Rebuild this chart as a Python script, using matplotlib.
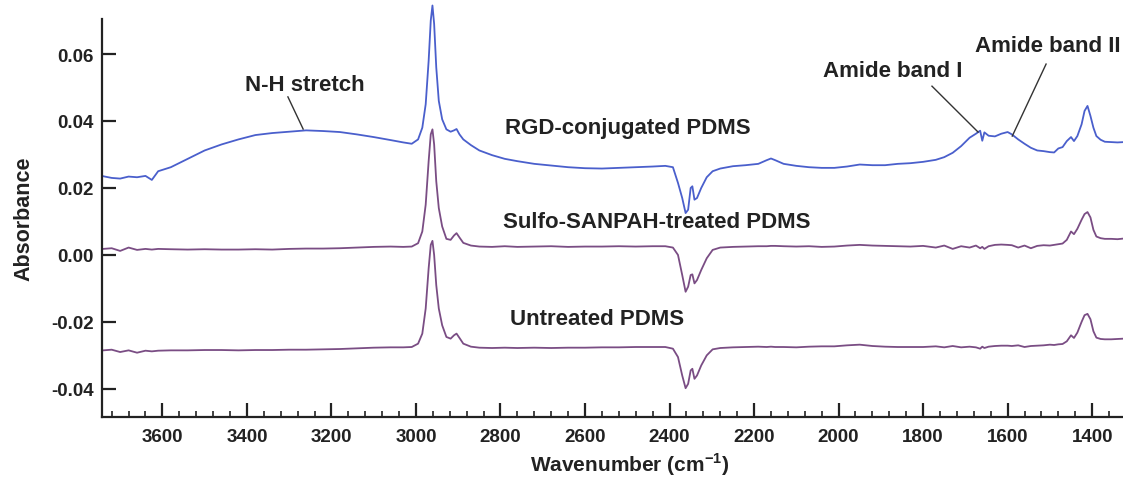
import numpy as np
import matplotlib
matplotlib.use("Agg")
import matplotlib.pyplot as plt
from matplotlib.ticker import MultipleLocator, FormatStrFormatter

plt.rcParams['font.family'] = ['Liberation Sans', 'DejaVu Sans']
plt.rcParams['font.weight'] = 'bold'
plt.rcParams['axes.unicode_minus'] = False
plt.rcParams['mathtext.fontset'] = 'custom'
plt.rcParams['mathtext.rm'] = 'Liberation Sans:bold'
plt.rcParams['mathtext.bf'] = 'Liberation Sans:bold'

# wavenumber grid (cm-1)
wn = [3740, 3720, 3700, 3680, 3660, 3640, 3625, 3610, 3580, 3540,
      3500, 3460, 3420, 3380, 3340, 3300, 3260, 3220, 3180, 3140,
      3100, 3060, 3030, 3010, 2995, 2985, 2977, 2970, 2965, 2961,
      2957, 2952, 2946, 2938, 2928, 2918, 2910, 2904, 2897, 2888,
      2870, 2850, 2820, 2790, 2760, 2720, 2680, 2640, 2600, 2560,
      2520, 2480, 2440, 2410, 2392, 2380, 2370, 2362, 2356, 2350,
      2346, 2341, 2335, 2325, 2312, 2298, 2280, 2250, 2220, 2190,
      2170, 2160, 2150, 2130, 2100, 2070, 2040, 2010, 1980, 1950,
      1920, 1890, 1860, 1830, 1800, 1770, 1750, 1730, 1710, 1690,
      1675, 1665, 1660, 1655, 1645, 1630, 1615, 1600, 1590, 1575,
      1560, 1545, 1530, 1515, 1500, 1490, 1480, 1470, 1460, 1450,
      1443, 1435, 1425, 1418, 1411, 1404, 1397, 1390, 1380, 1370,
      1355, 1340, 1325]

rgd = [.0235, .0230, .0228, .0234, .0232, .0236, .0224, .0250, .0262, .0287,
       .0312, .0330, .0345, .0358, .0364, .0368, .0372, .0370, .0367, .0360,
       .0352, .0343, .0336, .0332, .0345, .0380, .0450, .0580, .0700, .0745,
       .0690, .0560, .0460, .0405, .0375, .0368, .0372, .0376, .0360, .0345,
       .0328, .0312, .0298, .0287, .0280, .0272, .0267, .0262, .0259, .0258,
       .0260, .0262, .0264, .0266, .0262, .0215, .0170, .0125, .0135, .0200,
       .0205, .0165, .0170, .0200, .0232, .0250, .0258, .0265, .0268, .0272,
       .0283, .0288, .0283, .0272, .0266, .0262, .0260, .0260, .0264, .0270,
       .0268, .0268, .0272, .0274, .0278, .0284, .0292, .0305, .0325, .0350,
       .0362, .0371, .0341, .0366, .0356, .0354, .0362, .0367, .0360, .0345,
       .0332, .0320, .0312, .0310, .0307, .0306, .0318, .0322, .0340, .0352,
       .0340, .0355, .0390, .0430, .0445, .0415, .0380, .0355, .0344, .0338,
       .0337, .0336, .0337]

sulfo = [.0018, .0020, .0012, .0022, .0015, .0018, .0016, .0018, .0017, .0016,
         .0017, .0016, .0016, .0017, .0016, .0018, .0019, .0019, .0020, .0022,
         .0024, .0025, .0024, .0025, .0035, .0070, .0150, .0280, .0360, .0375,
         .0330, .0220, .0140, .0085, .0048, .0045, .0058, .0065, .0052, .0036,
         .0028, .0025, .0024, .0026, .0024, .0025, .0026, .0024, .0025, .0025,
         .0026, .0025, .0026, .0026, .0022, .0000, -.0060, -.0110, -.0095, -.0060,
         -.0058, -.0085, -.0075, -.0045, -.0010, .0015, .0022, .0024, .0025, .0026,
         .0026, .0027, .0027, .0026, .0025, .0026, .0024, .0025, .0028, .0030,
         .0028, .0027, .0026, .0025, .0027, .0022, .0028, .0018, .0026, .0022,
         .0028, .0020, .0024, .0018, .0026, .0030, .0031, .0030, .0029, .0022,
         .0028, .0020, .0027, .0029, .0028, .0030, .0032, .0034, .0045, .0070,
         .0062, .0078, .0105, .0122, .0128, .0112, .0075, .0055, .0050, .0048,
         .0048, .0047, .0049]

untreated = [-.0285, -.0283, -.0290, -.0285, -.0292, -.0286, -.0288, -.0286, -.0285, -.0285,
             -.0284, -.0284, -.0285, -.0284, -.0284, -.0283, -.0283, -.0282, -.0281, -.0279,
             -.0277, -.0276, -.0276, -.0275, -.0265, -.0235, -.0160, -.0040, .0030, .0042,
             .0000, -.0090, -.0160, -.0210, -.0245, -.0250, -.0240, -.0235, -.0248, -.0265,
             -.0274, -.0277, -.0278, -.0277, -.0278, -.0277, -.0278, -.0277, -.0277, -.0276,
             -.0276, -.0275, -.0275, -.0275, -.0280, -.0305, -.0360, -.0398, -.0385, -.0345,
             -.0340, -.0370, -.0360, -.0330, -.0300, -.0282, -.0278, -.0276, -.0275, -.0274,
             -.0275, -.0274, -.0275, -.0275, -.0276, -.0274, -.0273, -.0273, -.0270, -.0268,
             -.0272, -.0274, -.0275, -.0275, -.0275, -.0273, -.0276, -.0272, -.0276, -.0274,
             -.0276, -.0280, -.0274, -.0278, -.0274, -.0272, -.0271, -.0271, -.0272, -.0270,
             -.0275, -.0272, -.0271, -.0270, -.0268, -.0269, -.0267, -.0266, -.0258, -.0240,
             -.0248, -.0232, -.0200, -.0180, -.0176, -.0192, -.0228, -.0247, -.0251, -.0252,
             -.0252, -.0251, -.0250]

fig = plt.figure(figsize=(11.23, 4.81), dpi=100)
ax = fig.add_axes([0.0908, 0.131, 0.9092, 0.827])

ax.plot(wn, untreated, color='#7a4d84', lw=1.3)
ax.plot(wn, sulfo, color='#7a4d84', lw=1.3)
ax.plot(wn, rgd, color='#4a5fcc', lw=1.3, clip_on=False)

ax.set_xlim(3743, 1327)
ax.set_ylim(-0.0484, 0.0704)

for s in ['top', 'right']:
    ax.spines[s].set_visible(False)
for s in ['left', 'bottom']:
    ax.spines[s].set_linewidth(1.6)
    ax.spines[s].set_color('#222222')

ax.xaxis.set_major_locator(MultipleLocator(200))
ax.xaxis.set_minor_locator(MultipleLocator(40))
ax.yaxis.set_major_locator(MultipleLocator(0.02))
ax.yaxis.set_major_formatter(FormatStrFormatter('%.2f'))
ax.tick_params(axis='both', which='major', direction='in', length=10, width=1.6,
               labelsize=13.5, colors='#222222', pad=6)
ax.tick_params(axis='x', which='major', pad=8)
ax.tick_params(axis='x', which='minor', direction='in', length=4, width=1.2, colors='#222222')

ax.set_xlabel('Wavenumber (cm$^{-1}$)', fontsize=15, fontweight='bold', color='#222222')
ax.xaxis.set_label_coords(0.517, -0.085)
ax.set_ylabel('Absorbance', fontsize=15.5, fontweight='bold', color='#222222', labelpad=12)

txt = dict(fontsize=16, fontweight='bold', color='#222222', ha='center', va='center')
ax.text(2498, 0.0382, 'RGD-conjugated PDMS', **txt)
ax.text(2430, 0.0101, 'Sulfo-SANPAH-treated PDMS', **txt)
ax.text(2572, -0.0191, 'Untreated PDMS', **txt)
ax.text(3263, 0.0510, 'N-H stretch', **txt)
ax.text(1871, 0.0550, 'Amide band I', **txt)
ax.text(1334, 0.0624, 'Amide band II', fontsize=16, fontweight='bold', color='#222222',
        ha='right', va='center', clip_on=False)

# leader lines for the band labels
ax.plot([3303, 3267], [0.0472, 0.0376], color='#333333', lw=1.0)
ax.plot([1779, 1670], [0.0504, 0.0367], color='#333333', lw=1.0)
ax.plot([1509, 1589], [0.0570, 0.0355], color='#333333', lw=1.0)

fig.savefig('out.png', dpi=100)
